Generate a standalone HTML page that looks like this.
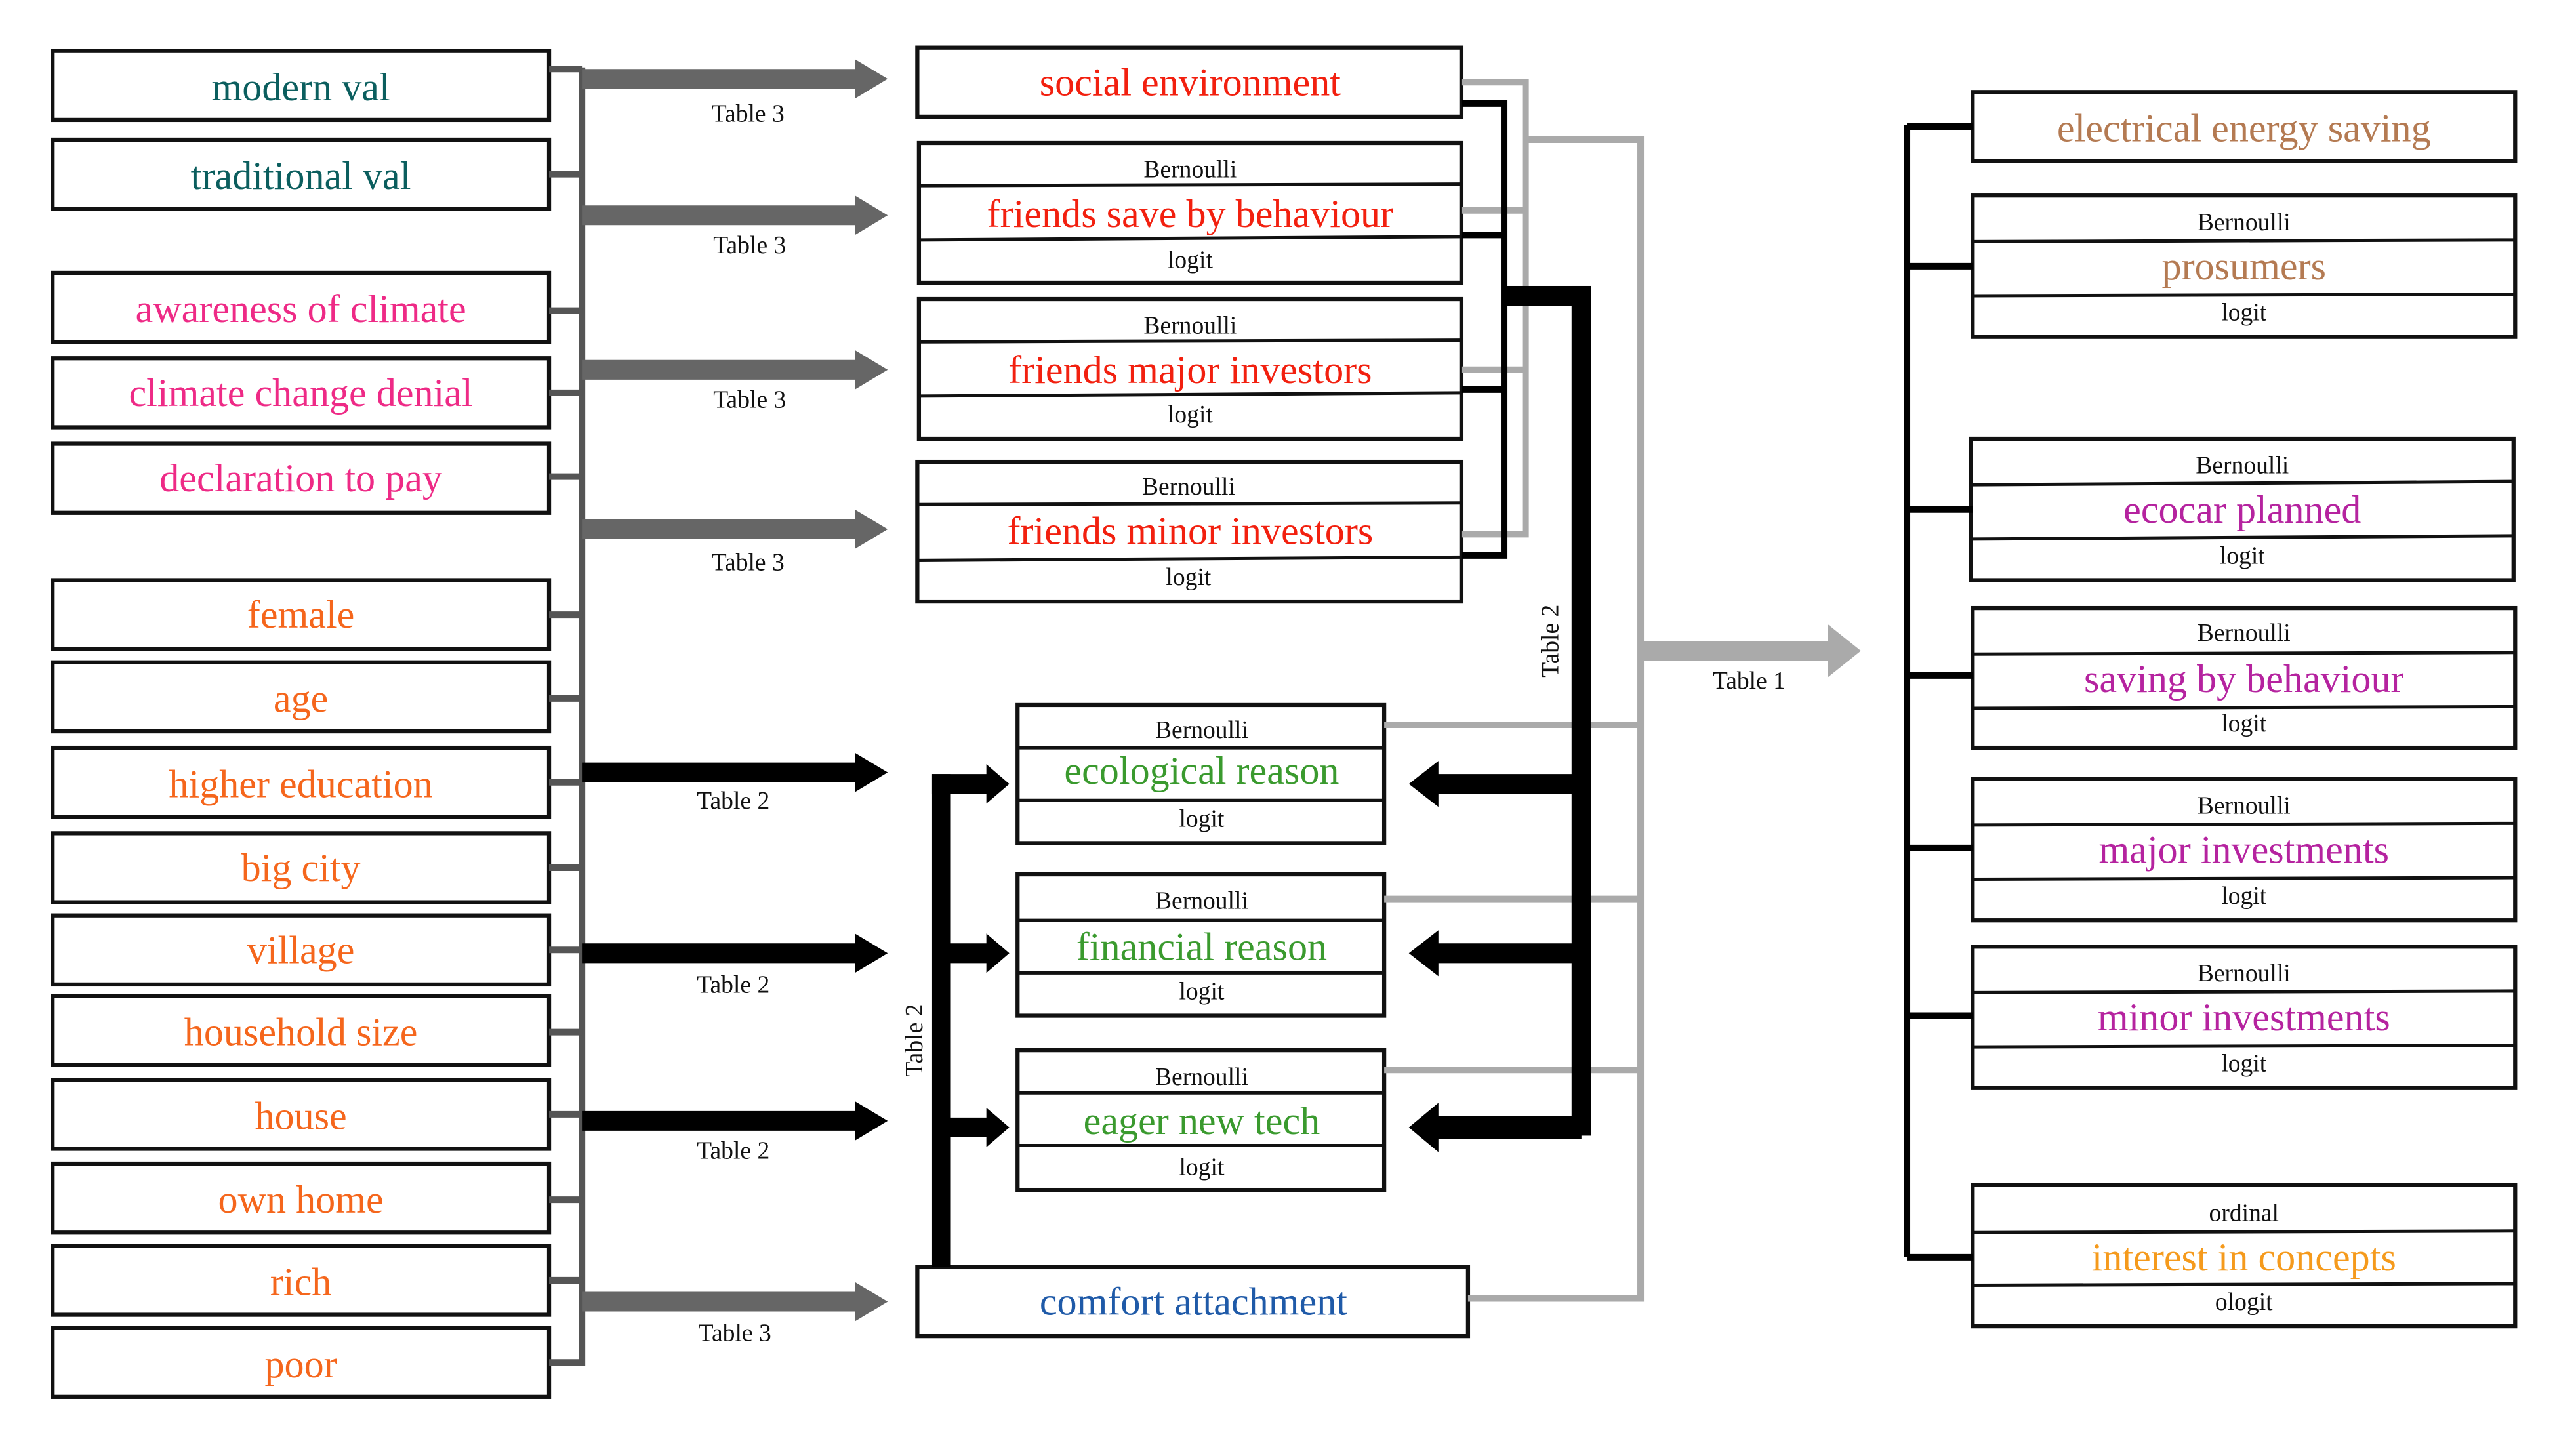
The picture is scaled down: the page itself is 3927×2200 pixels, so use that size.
<!DOCTYPE html>
<html><head><meta charset="utf-8"><style>
html,body{margin:0;padding:0;background:#fff}
svg{display:block}
svg text{font-family:"Liberation Serif","Times New Roman","DejaVu Serif",serif !important;text-anchor:middle}
.b{font-size:24px}
.s{font-size:15px;fill:#111}
.t{font-size:15px;fill:#111}
</style></head><body>
<svg width="3927" height="2200" viewBox="0 0 1567 878" preserveAspectRatio="none" xmlns="http://www.w3.org/2000/svg" font-family="Liberation Serif, serif">
<g fill="#fff" stroke="#111" stroke-width="2.5">
<rect x="32" y="31" width="302" height="42"/><rect x="32" y="85" width="302" height="42"/>
<rect x="32" y="166" width="302" height="42"/><rect x="32" y="218" width="302" height="42"/><rect x="32" y="270" width="302" height="42"/>
<rect x="32" y="353" width="302" height="42"/><rect x="32" y="403" width="302" height="42"/><rect x="32" y="455" width="302" height="42"/>
<rect x="32" y="507" width="302" height="42"/><rect x="32" y="557" width="302" height="42"/><rect x="32" y="606" width="302" height="42"/>
<rect x="32" y="657" width="302" height="42"/><rect x="32" y="708" width="302" height="42"/><rect x="32" y="758" width="302" height="42"/><rect x="32" y="808" width="302" height="42"/>
<rect x="558" y="29" width="331" height="42"/>
<rect x="559" y="87" width="330" height="85"/><rect x="559" y="182" width="330" height="85"/><rect x="558" y="281" width="331" height="85"/>
<rect x="619" y="429" width="223" height="84"/><rect x="619" y="532" width="223" height="86"/><rect x="619" y="639" width="223" height="85"/>
<rect x="558" y="771" width="335" height="42"/>
<rect x="1200" y="56" width="330" height="42"/>
<rect x="1200" y="119" width="330" height="86"/><rect x="1199" y="267" width="330" height="86"/><rect x="1200" y="370" width="330" height="85"/>
<rect x="1200" y="474" width="330" height="86"/><rect x="1200" y="576" width="330" height="86"/><rect x="1200" y="721" width="330" height="86"/>
</g>
<g stroke="#111" stroke-width="2">
<line x1="559" y1="113" x2="889" y2="112"/><line x1="559" y1="146" x2="889" y2="144"/>
<line x1="559" y1="208" x2="889" y2="207"/><line x1="559" y1="241" x2="889" y2="239"/>
<line x1="558" y1="307" x2="889" y2="306"/><line x1="558" y1="341" x2="889" y2="339"/>
<line x1="619" y1="455" x2="842" y2="455"/><line x1="619" y1="487" x2="842" y2="487"/>
<line x1="619" y1="560" x2="842" y2="560"/><line x1="619" y1="592" x2="842" y2="592"/>
<line x1="619" y1="665" x2="842" y2="665"/><line x1="619" y1="697" x2="842" y2="697"/>
<line x1="1200" y1="147" x2="1530" y2="146"/><line x1="1200" y1="180" x2="1530" y2="179"/>
<line x1="1199" y1="295" x2="1529" y2="293"/><line x1="1199" y1="328" x2="1529" y2="326"/>
<line x1="1200" y1="398" x2="1530" y2="397"/><line x1="1200" y1="431" x2="1530" y2="430"/>
<line x1="1200" y1="502" x2="1530" y2="501"/><line x1="1200" y1="535" x2="1530" y2="534"/>
<line x1="1200" y1="604" x2="1530" y2="603"/><line x1="1200" y1="637" x2="1530" y2="636"/>
<line x1="1200" y1="750" x2="1530" y2="749"/><line x1="1200" y1="782" x2="1530" y2="781"/>
</g>
<g stroke="#555" stroke-width="4" fill="none">
<line x1="354" y1="41" x2="354" y2="831"/>
<path d="M334 42H354M334 106H354M334 189H354M334 239H354M334 290H354M334 374H354M334 425H354M334 476H354M334 528H354M334 578H354M334 628H354M334 678H354M334 730H354M334 779H354M334 829H354"/>
</g>
<g fill="#666">
<path d="M354 42H520V36L540 48L520 60V54H354Z"/>
<path d="M354 125H520V119L540 131L520 143V137H354Z"/>
<path d="M354 219H520V213L540 225L520 237V231H354Z"/>
<path d="M354 316H520V310L540 322L520 334V328H354Z"/>
<path d="M354 786H520V780L540 792L520 804V798H354Z"/>
</g>
<g fill="#000">
<path d="M354 464H520V458L540 470L520 482V476H354Z"/>
<path d="M354 574H520V568L540 580L520 592V586H354Z"/>
<path d="M354 676H520V670L540 682L520 694V688H354Z"/>
</g>
<text class="t" x="455" y="74">Table 3</text><text class="t" x="456" y="154">Table 3</text>
<text class="t" x="456" y="248">Table 3</text><text class="t" x="455" y="347">Table 3</text>
<text class="t" x="447" y="816">Table 3</text>
<text class="t" x="446" y="492">Table 2</text><text class="t" x="446" y="604">Table 2</text><text class="t" x="446" y="705">Table 2</text>
<g fill="#000">
<rect x="567" y="471" width="11" height="300"/>
<path d="M567 471H600V465L614 477L600 489V483H567Z"/>
<path d="M572 574H600V568L614 580L600 592V586H572Z"/>
<path d="M572 680H600V674L614 686L600 698V692H572Z"/>
</g>
<text class="t" transform="translate(561,633) rotate(-90)">Table 2</text>
<g stroke="#aaa" stroke-width="4" fill="none">
<path d="M889 50H928V325H889M889 128H928M889 225H928"/>
<path d="M928 85H998V790H893M842 441H998M842 547H998M842 651H998"/>
</g>
<path d="M998 390H1112V380L1132 396L1112 412V402H998Z" fill="#aaa"/>
<text class="t" x="1064" y="419">Table 1</text>
<g stroke="#000" stroke-width="4" fill="none">
<path d="M889 63H915V338H889M889 143H915M889 237H915"/>
</g>
<g fill="#000">
<rect x="915" y="174" width="53" height="12"/>
<rect x="956" y="174" width="12" height="517"/>
<path d="M962 471H875V463L857 477L875 491V483H962Z"/>
<path d="M962 574H875V566L857 580L875 594V586H962Z"/>
<path d="M962 679H875V671L857 686L875 701V693H962Z"/>
</g>
<text class="t" transform="translate(948,390) rotate(-90)">Table 2</text>
<g stroke="#000" stroke-width="4" fill="none">
<path d="M1160 76V765M1160 77H1200M1160 162H1200M1160 310H1200M1160 411H1200M1160 516H1200M1160 618H1200M1160 765H1200"/>
</g>
<g>
<text x="183" y="61" fill="#0b5e5e" class="b">modern val</text>
<text x="183" y="115" fill="#0b5e5e" class="b">traditional val</text>
<text x="183" y="196" fill="#ee2a86" class="b">awareness of climate</text>
<text x="183" y="247" fill="#ee2a86" class="b">climate change denial</text>
<text x="183" y="299" fill="#ee2a86" class="b">declaration to pay</text>
<text x="183" y="382" fill="#f5661c" class="b">female</text>
<text x="183" y="433" fill="#f5661c" class="b">age</text>
<text x="183" y="485" fill="#f5661c" class="b">higher education</text>
<text x="183" y="536" fill="#f5661c" class="b">big city</text>
<text x="183" y="586" fill="#f5661c" class="b">village</text>
<text x="183" y="636" fill="#f5661c" class="b">household size</text>
<text x="183" y="687" fill="#f5661c" class="b">house</text>
<text x="183" y="738" fill="#f5661c" class="b">own home</text>
<text x="183" y="788" fill="#f5661c" class="b">rich</text>
<text x="183" y="838" fill="#f5661c" class="b">poor</text>
<text x="724" y="58" fill="#f2200f" class="b">social environment</text>
<text x="724" y="138" fill="#f2200f" class="b">friends save by behaviour</text>
<text x="724" y="233" fill="#f2200f" class="b">friends major investors</text>
<text x="724" y="331" fill="#f2200f" class="b">friends minor investors</text>
<text x="731" y="477" fill="#3a9a2e" class="b">ecological reason</text>
<text x="731" y="584" fill="#3a9a2e" class="b">financial reason</text>
<text x="731" y="690" fill="#3a9a2e" class="b">eager new tech</text>
<text x="726" y="800" fill="#1f5aa8" class="b">comfort attachment</text>
<text x="1365" y="86" fill="#b47a52" class="b">electrical energy saving</text>
<text x="1365" y="170" fill="#b47a52" class="b">prosumers</text>
<text x="1364" y="318" fill="#b5239f" class="b">ecocar planned</text>
<text x="1365" y="421" fill="#b5239f" class="b">saving by behaviour</text>
<text x="1365" y="525" fill="#b5239f" class="b">major investments</text>
<text x="1365" y="627" fill="#b5239f" class="b">minor investments</text>
<text x="1365" y="773" fill="#f59a1c" class="b">interest in concepts</text>
</g>
<g>
<text class="s" x="724" y="108">Bernoulli</text><text class="s" x="724" y="163">logit</text>
<text class="s" x="724" y="203">Bernoulli</text><text class="s" x="724" y="257">logit</text>
<text class="s" x="723" y="301">Bernoulli</text><text class="s" x="723" y="356">logit</text>
<text class="s" x="731" y="449">Bernoulli</text><text class="s" x="731" y="503">logit</text>
<text class="s" x="731" y="553">Bernoulli</text><text class="s" x="731" y="608">logit</text>
<text class="s" x="731" y="660">Bernoulli</text><text class="s" x="731" y="715">logit</text>
<text class="s" x="1365" y="140">Bernoulli</text><text class="s" x="1365" y="195">logit</text>
<text class="s" x="1364" y="288">Bernoulli</text><text class="s" x="1364" y="343">logit</text>
<text class="s" x="1365" y="390">Bernoulli</text><text class="s" x="1365" y="445">logit</text>
<text class="s" x="1365" y="495">Bernoulli</text><text class="s" x="1365" y="550">logit</text>
<text class="s" x="1365" y="597">Bernoulli</text><text class="s" x="1365" y="652">logit</text>
<text class="s" x="1365" y="743">ordinal</text><text class="s" x="1365" y="797">ologit</text>
</g>
</svg>
</body></html>
